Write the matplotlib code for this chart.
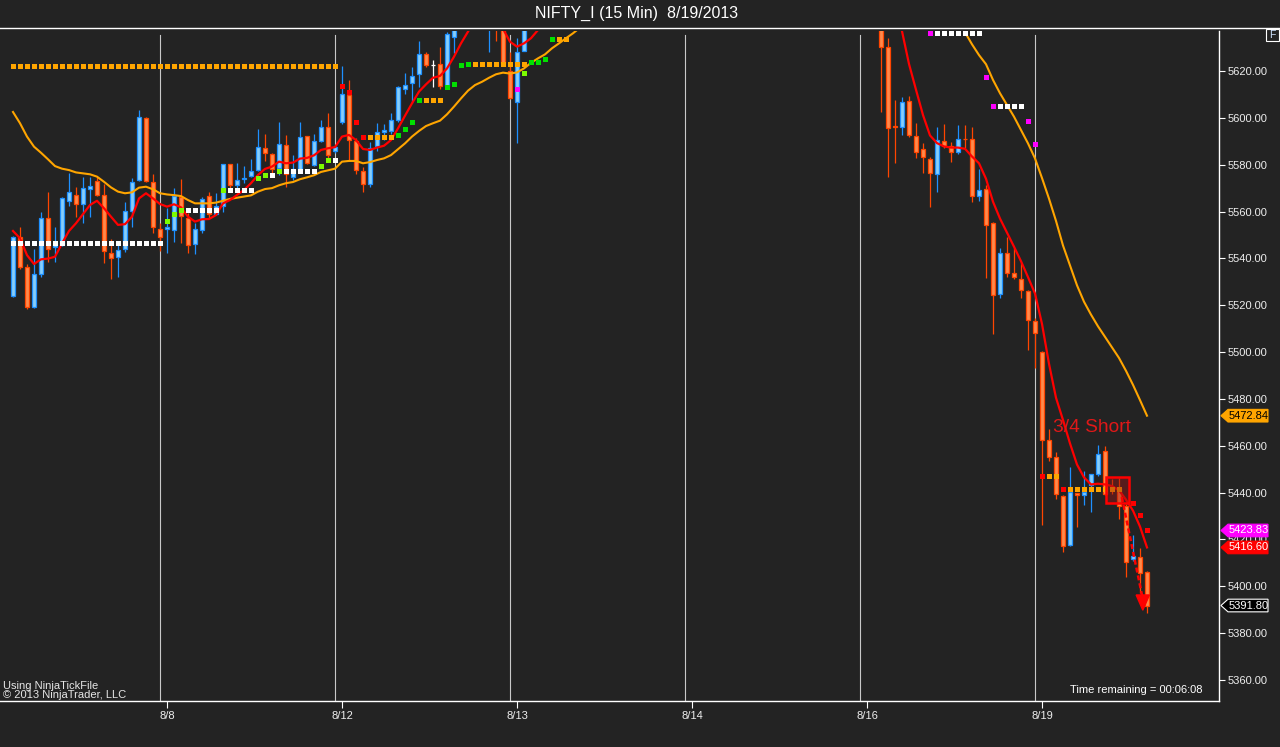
#!/usr/bin/env python3

import numpy as np
import matplotlib
matplotlib.use('Agg')
import matplotlib.pyplot as plt
from matplotlib.patches import Polygon, Rectangle
from matplotlib.lines import Line2D
from matplotlib.transforms import blended_transform_factory

plt.rcParams['font.family'] = ['Liberation Sans', 'DejaVu Sans']

# ---- data (bar index = 15 min bar, 0 = first visible bar) ----
title = 'NIFTY_I (15 Min)  8/19/2013'

day_first_bars = [22, 47, 72, 97, 122, 147]
day_labels = ['8/8', '8/12', '8/13', '8/14', '8/16', '8/19']
session_break_bars = [21, 46, 71, 96, 121, 146]

# visible candle segments (the rest of 8/13 - 8/16 is above the price scale)
seg_a_start = 0
seg_a_open = [5524.0, 5549.3, 5536.2, 5519.1, 5533.2, 5557.1, 5544.7, 5545.7, 5564.4, 5566.9,
              5563.1, 5569.8, 5573.0, 5566.9, 5542.2, 5540.5, 5543.9, 5560.4, 5573.5, 5599.8,
              5572.8, 5552.4, 5552.4, 5552.0, 5566.1, 5557.1, 5546.0, 5552.0, 5566.5, 5558.8,
              5562.2, 5580.2, 5571.2, 5573.8, 5575.0, 5577.6, 5587.0, 5584.5, 5578.5, 5588.3,
              5574.6, 5577.6, 5592.1, 5579.8, 5590.0, 5596.0, 5586.0, 5598.4, 5609.6, 5590.0,
              5577.2, 5571.6, 5587.8, 5593.8, 5594.3, 5598.9, 5612.2, 5614.8, 5618.6, 5627.1,
              5622.4, 5622.9, 5613.5, 5634.4]
seg_a_high = [5549.5, 5553.5, 5537.6, 5543.9, 5559.7, 5568.2, 5553.5, 5566.0, 5576.6, 5570.3,
              5574.6, 5574.6, 5574.6, 5571.8, 5548.3, 5546.3, 5563.9, 5574.2, 5603.3, 5600.5,
              5576.0, 5555.0, 5561.4, 5570.0, 5573.8, 5559.3, 5555.0, 5566.1, 5568.2, 5567.8,
              5580.3, 5580.3, 5580.6, 5579.3, 5582.3, 5595.1, 5593.0, 5584.9, 5598.1, 5592.6,
              5584.0, 5598.1, 5592.3, 5593.0, 5599.0, 5602.0, 5588.0, 5622.1, 5616.2, 5591.3,
              5578.9, 5589.9, 5597.7, 5597.4, 5602.0, 5613.7, 5619.0, 5621.7, 5632.8, 5628.0,
              5624.6, 5630.1, 5636.8, 5650.0]
seg_a_low = [5523.5, 5535.3, 5518.5, 5518.8, 5531.9, 5538.6, 5538.6, 5545.5, 5562.5, 5557.8,
             5555.0, 5557.6, 5566.5, 5538.2, 5531.1, 5532.0, 5542.6, 5553.3, 5573.0, 5572.5,
             5551.0, 5543.3, 5542.2, 5547.1, 5546.4, 5542.2, 5541.8, 5550.7, 5557.4, 5558.4,
             5559.7, 5569.9, 5569.9, 5572.1, 5574.6, 5577.2, 5581.5, 5575.9, 5575.5, 5570.3,
             5573.3, 5577.2, 5580.2, 5579.3, 5589.5, 5582.0, 5585.0, 5597.5, 5582.0, 5575.9,
             5568.2, 5570.3, 5585.7, 5590.4, 5593.0, 5598.1, 5610.0, 5606.5, 5613.0, 5621.6,
             5613.0, 5612.2, 5613.0, 5627.5]
seg_a_close = [5549.3, 5536.2, 5519.1, 5533.2, 5557.1, 5543.9, 5545.6, 5565.6, 5568.2, 5563.1,
               5569.9, 5570.8, 5566.9, 5543.0, 5540.0, 5543.5, 5560.1, 5572.8, 5600.2, 5573.0,
               5553.5, 5549.0, 5553.4, 5566.6, 5558.0, 5545.6, 5552.4, 5565.3, 5558.8, 5562.2,
               5580.2, 5571.2, 5573.3, 5574.3, 5577.2, 5587.4, 5584.9, 5578.0, 5588.7, 5575.9,
               5578.0, 5591.7, 5580.6, 5590.0, 5596.0, 5584.0, 5587.7, 5610.0, 5590.4, 5577.6,
               5571.6, 5587.0, 5593.8, 5594.7, 5598.9, 5613.0, 5613.9, 5617.7, 5627.1, 5622.4,
               5622.4, 5613.5, 5635.7, 5645.0]

seg_b_start = 68
seg_b_open = [5650.0, 5660.0, 5648.0, 5620.0, 5606.9, 5628.7]
seg_b_high = [5665.0, 5668.0, 5652.0, 5628.0, 5634.2, 5655.0]
seg_b_low = [5628.3, 5633.0, 5622.5, 5608.0, 5589.1, 5628.5]
seg_b_close = [5658.0, 5645.0, 5623.3, 5608.3, 5628.0, 5650.0]

seg_c_start = 124
seg_c_open = [5650.0, 5630.1, 5596.5, 5596.0, 5607.1, 5592.1, 5586.6, 5582.3, 5576.2, 5590.0,
              5587.9, 5585.3, 5591.1, 5590.9, 5566.6, 5569.5, 5555.0, 5524.7, 5542.2, 5533.6,
              5531.1, 5526.0, 5513.2, 5499.9, 5462.5, 5455.1, 5438.5, 5417.6, 5439.7, 5438.9,
              5443.1, 5447.8, 5457.7, 5442.5, 5441.8, 5434.4, 5411.5, 5412.4, 5406.0]
seg_c_high = [5660.0, 5634.0, 5607.6, 5608.9, 5609.3, 5597.7, 5589.1, 5583.2, 5596.0, 5597.3,
              5589.6, 5596.8, 5596.9, 5596.0, 5578.1, 5571.3, 5555.5, 5544.3, 5549.0, 5544.3,
              5538.6, 5526.5, 5514.5, 5500.5, 5467.1, 5457.2, 5438.8, 5451.1, 5440.0, 5449.2,
              5448.0, 5460.2, 5459.8, 5446.0, 5446.1, 5435.0, 5421.7, 5416.3, 5406.7]
seg_c_low = [5602.6, 5574.9, 5580.9, 5592.8, 5592.0, 5583.0, 5576.6, 5562.1, 5568.5, 5587.0,
             5581.3, 5584.4, 5587.0, 5564.0, 5564.4, 5531.8, 5507.9, 5523.0, 5532.0, 5531.2,
             5523.2, 5501.0, 5493.0, 5426.1, 5453.5, 5437.2, 5414.6, 5417.1, 5425.5, 5434.9,
             5431.9, 5447.0, 5439.0, 5439.5, 5428.6, 5404.0, 5410.8, 5397.0, 5388.5]
seg_c_close = [5630.1, 5595.5, 5596.0, 5606.6, 5592.5, 5585.3, 5583.2, 5576.4, 5590.4, 5587.9,
               5585.3, 5590.9, 5590.8, 5566.6, 5569.1, 5554.1, 5524.2, 5542.2, 5533.6, 5531.9,
               5526.4, 5513.6, 5508.0, 5462.5, 5455.1, 5439.4, 5417.1, 5440.1, 5438.9, 5440.1,
               5447.8, 5456.4, 5439.4, 5441.5, 5434.4, 5410.2, 5412.8, 5405.6, 5391.8]

# fast (red) moving average, visible pieces
fast_a_start = 0
fast_a = [5551.7, 5548.6, 5541.4, 5537.6, 5539.6, 5539.9, 5540.7, 5546.4, 5551.7, 5555.0,
          5558.9, 5562.8, 5564.6, 5561.4, 5557.8, 5554.3, 5554.6, 5557.8, 5565.6, 5567.8,
          5565.6, 5563.2, 5562.1, 5563.1, 5561.8, 5557.8, 5555.7, 5556.7, 5556.8, 5558.5,
          5563.5, 5564.9, 5567.1, 5569.2, 5572.1, 5575.6, 5578.2, 5579.2, 5581.3, 5580.6,
          5580.9, 5582.6, 5582.9, 5584.0, 5586.3, 5587.0, 5587.5, 5592.0, 5592.7, 5590.5,
          5586.7, 5586.3, 5587.3, 5588.1, 5590.5, 5595.5, 5600.9, 5606.2, 5611.2, 5614.3,
          5617.1, 5617.9, 5621.1, 5626.1, 5631.8, 5636.8, 5642.0]
fast_b_start = 69
fast_b = [5645.0, 5638.0, 5632.5, 5630.4, 5631.8, 5634.0, 5637.5, 5642.0]
fast_c_start = 126
fast_c = [5655.0, 5637.0, 5623.0, 5612.0, 5601.2, 5592.5, 5589.2, 5587.8, 5587.3, 5587.3,
          5586.8, 5583.5, 5580.6, 5574.0, 5564.2, 5557.0, 5551.0, 5545.0, 5538.8, 5532.0,
          5525.0, 5512.0, 5495.0, 5480.5, 5471.0, 5461.0, 5452.0, 5446.5, 5443.5, 5443.8,
          5443.5, 5442.8, 5441.0, 5437.0, 5432.3, 5425.5, 5416.6]

# slow (orange) moving average, visible pieces
slow_a_start = 0
slow_a = [5602.5, 5597.7, 5592.0, 5587.7, 5585.1, 5582.3, 5579.4, 5578.3, 5577.7, 5576.7,
          5576.3, 5575.9, 5574.9, 5572.7, 5570.3, 5568.5, 5567.8, 5568.2, 5570.2, 5570.6,
          5569.5, 5567.8, 5567.3, 5567.0, 5566.6, 5564.9, 5563.5, 5563.5, 5563.5, 5563.8,
          5564.6, 5565.4, 5565.9, 5566.4, 5566.9, 5568.5, 5569.6, 5570.0, 5571.2, 5572.1,
          5572.6, 5573.8, 5574.6, 5575.5, 5576.9, 5577.6, 5578.3, 5581.3, 5581.6, 5581.6,
          5580.6, 5581.1, 5582.0, 5582.7, 5584.1, 5586.6, 5589.1, 5592.0, 5594.4, 5596.5,
          5597.7, 5598.8, 5601.5, 5604.8, 5608.3, 5611.6, 5614.0, 5615.4, 5617.1, 5618.6,
          5619.3, 5618.9, 5619.4, 5621.1, 5623.5, 5625.4, 5627.1, 5629.7, 5631.8, 5634.0,
          5636.1, 5638.5, 5641.0]
slow_c_start = 135
slow_c = [5645.0, 5636.5, 5631.4, 5626.8, 5622.9, 5616.2, 5610.5, 5605.5, 5600.5, 5594.8,
          5589.1, 5582.7, 5574.3, 5565.5, 5556.0, 5545.5, 5537.0, 5528.5, 5521.5, 5516.0,
          5511.0, 5506.5, 5502.0, 5497.5, 5492.0, 5486.0, 5479.5, 5472.84]

# stop / level dots: runs are (first bar, last bar, level)
white_runs = [(0, 21, 5546.6), (25, 29, 5560.8), (31, 34, 5569.3), (37, 37, 5575.5),
              (39, 43, 5577.4), (46, 46, 5582.1), (132, 138, 5636.1), (141, 144, 5605.2)]
orange_runs = [(0, 46, 5622.2), (51, 54, 5591.8), (59, 61, 5607.6), (66, 73, 5623.0),
               (78, 79, 5633.7), (148, 149, 5447.2), (151, 158, 5441.6)]
lime_bars = [22, 23, 24, 30, 35, 36, 38, 44, 45, 73]
lime_vals = [5556.1, 5559.1, 5560.8, 5569.3, 5574.4, 5575.5, 5577.4, 5579.6, 5582.1, 5619.3]
green_bars = [55, 56, 57, 58, 62, 63, 64, 65, 74, 75, 76, 77]
green_vals = [5592.8, 5595.4, 5598.2, 5607.6, 5613.3, 5614.4, 5622.7, 5623.0, 5624.0, 5624.0,
              5625.3, 5633.7]
red_bars = [47, 48, 49, 50, 147, 150, 160, 161, 162]
red_vals = [5613.6, 5611.0, 5598.2, 5591.8, 5447.2, 5441.6, 5435.7, 5430.6, 5424.2]
magenta_bars = [72, 131, 139, 140, 145, 146]
magenta_vals = [5612.4, 5636.1, 5617.6, 5605.2, 5598.8, 5589.0]

# price markers on the right axis: (value, fill colour, text colour)
price_markers = [(5472.84, '#FFA500', 'black'), (5423.83, '#FF00FF', 'white'),
                 (5416.60, '#FF0000', 'white'), (5391.80, 'black', 'white')]

# short signal drawing
signal_text = '3/4 Short'
signal_text_pos = (148.6, 5468.0)
signal_box_bars = (156.1, 159.4)
signal_box_prices = (5435.6, 5446.7)
signal_path_bars = [158.4, 161.3]
signal_path_prices = [5438.1, 5396.0]
arrow_bar = 161.4
arrow_base = 5396.3
arrow_tip = 5389.8

y_ticks = list(range(5360, 5621, 20))

BG = '#232323'
UP_FILL, UP_EDGE = '#87CEFA', '#1E90FF'
DN_FILL, DN_EDGE = '#FF8A4C', '#FF4500'
W, H = 1280, 747


def segments_to_arrays():
	bars, o, h, l, c = [], [], [], [], []
	for start, so, sh, sl, sc in [(seg_a_start, seg_a_open, seg_a_high, seg_a_low, seg_a_close),
								  (seg_b_start, seg_b_open, seg_b_high, seg_b_low, seg_b_close),
								  (seg_c_start, seg_c_open, seg_c_high, seg_c_low, seg_c_close)]:
		bars += list(range(start, start + len(so)))
		o += so
		h += sh
		l += sl
		c += sc
	return np.array(bars), np.array(o), np.array(h), np.array(l), np.array(c)


def main():
	fig = plt.figure(figsize=(W / 100, H / 100), dpi=100, facecolor=BG)
	# plot area: x 0..1219 px, y 31..701 px
	ax = fig.add_axes([0, (H - 701) / H, 1219 / W, 670 / H])
	ax.set_facecolor(BG)
	ax.set_xlim(-13 / 7, (1219 - 13) / 7)
	ax.set_ylim(5620 - (701 - 71) / 2.3423, 5620 + (71 - 31) / 2.3423)

	# session breaks
	for b in session_break_bars:
		ax.axvline(b, ymin=0, ymax=(701 - 35) / 670, color='#C8C8C8', lw=0.8, zorder=1)

	# candles
	bars, o, h, l, c = segments_to_arrays()
	edge = np.where(c > o, UP_EDGE, np.where(c < o, DN_EDGE, 'white'))
	fill = np.where(c > o, UP_FILL, np.where(c < o, DN_FILL, 'white'))
	ax.vlines(bars, l, h, colors=edge, lw=0.9, zorder=2)
	body = np.maximum(np.abs(c - o), 0.25)
	ax.bar(bars, body, bottom=np.minimum(o, c), width=0.6, color=fill,
		   edgecolor=edge, linewidth=0.9, zorder=3)

	# moving averages
	for start, vals in [(slow_a_start, slow_a), (slow_c_start, slow_c)]:
		ax.plot(np.arange(start, start + len(vals)), vals, color='#FFA500', lw=1.5, zorder=4)
	for start, vals in [(fast_a_start, fast_a), (fast_b_start, fast_b), (fast_c_start, fast_c)]:
		ax.plot(np.arange(start, start + len(vals)), vals, color='#FF0000', lw=1.6, zorder=4)

	# level dots
	def draw_runs(runs, color):
		xs, ys = [], []
		for first, last, level in runs:
			for b in range(first, last + 1):
				xs.append(b)
				ys.append(level)
		ax.plot(xs, ys, ls='none', marker='s', ms=3.6, mew=0, color=color, zorder=5)

	draw_runs(white_runs, 'white')
	draw_runs(orange_runs, '#FFA500')
	for xs, ys, col in [(lime_bars, lime_vals, '#7CFC00'), (green_bars, green_vals, '#00E000'),
						(red_bars, red_vals, '#FF0000'), (magenta_bars, magenta_vals, '#FF00FF')]:
		ax.plot(xs, ys, ls='none', marker='s', ms=3.6, mew=0, color=col, zorder=5)

	# signal drawing
	ax.text(signal_text_pos[0], signal_text_pos[1], signal_text, color='#E01818',
			fontsize=13.8, ha='left', va='center', zorder=6)
	ax.add_patch(Rectangle((signal_box_bars[0], signal_box_prices[0]),
						   signal_box_bars[1] - signal_box_bars[0],
						   signal_box_prices[1] - signal_box_prices[0],
						   facecolor=(0.6, 0.08, 0.08, 0.45), edgecolor='#FF0000', lw=1.8, zorder=6))
	ax.plot(signal_path_bars, signal_path_prices, color='#FF0000', lw=1.8,
			ls=(0, (2, 1.2)), zorder=6)
	ax.add_patch(Polygon([(arrow_bar - 0.95, arrow_base), (arrow_bar + 0.95, arrow_base),
						  (arrow_bar, arrow_tip)], closed=True, color='#FF0000', zorder=6))

	# axes styling
	for side in ['top', 'left']:
		ax.spines[side].set_visible(False)
	for side in ['bottom', 'right']:
		ax.spines[side].set_color('white')
		ax.spines[side].set_linewidth(1.0)
	ax.yaxis.tick_right()
	ax.set_yticks(y_ticks)
	ax.set_yticklabels(['%.2f' % v for v in y_ticks])
	ax.tick_params(axis='y', direction='out', length=4, width=0.8, color='white',
				   labelcolor='#EEEEEE', labelsize=8, pad=2)
	ax.set_xticks(day_first_bars)
	ax.set_xticklabels(day_labels)
	ax.tick_params(axis='x', direction='out', length=5, width=0.8, color='white',
				   labelcolor='#EEEEEE', labelsize=8, pad=2)

	# price markers on the axis
	trans = blended_transform_factory(ax.transAxes, ax.transData)
	hh = 2.7
	for val, fc, tc in price_markers:
		pts = [(1.0016, val), (1.0074, val + hh), (1.0402, val + hh),
			   (1.0402, val - hh), (1.0074, val - hh)]
		ax.add_patch(Polygon(pts, closed=True, transform=trans, facecolor=fc,
							 edgecolor='white' if fc == 'black' else fc, lw=0.8,
							 clip_on=False, zorder=7))
		ax.text(1.0240, val, '%.2f' % val, transform=trans, color=tc, fontsize=8,
				ha='center', va='center', clip_on=False, zorder=8)

	# frame line on top and small F box
	fig.add_artist(Line2D([0, 1], [1 - 27.5 / H] * 2, transform=fig.transFigure,
						  color='white', lw=1.0))
	fig.add_artist(Rectangle((1266 / W, 1 - 41 / H), 13 / W, 12 / H, transform=fig.transFigure,
							 facecolor='none', edgecolor='white', lw=0.8))
	fig.text(1272.5 / W, 1 - 35 / H, 'F', color='#CFE3FF', fontsize=7.5,
			 ha='center', va='center')

	# texts
	fig.text(637 / W, 1 - 13.5 / H, title, color='white', fontsize=11.5,
			 ha='center', va='center')
	fig.text(3 / W, 1 - 686 / H, 'Using NinjaTickFile', color='#E6E6E6', fontsize=8,
			 ha='left', va='center')
	fig.text(3 / W, 1 - 694.5 / H, '\u00a9 2013 NinjaTrader, LLC', color='#E6E6E6',
			 fontsize=8, ha='left', va='center')
	fig.text(1203 / W, 1 - 690 / H, 'Time remaining = 00:06:08', color='white',
			 fontsize=8, ha='right', va='center')

	fig.savefig('out.png', dpi=100, facecolor=BG)


if __name__ == '__main__':
	main()
